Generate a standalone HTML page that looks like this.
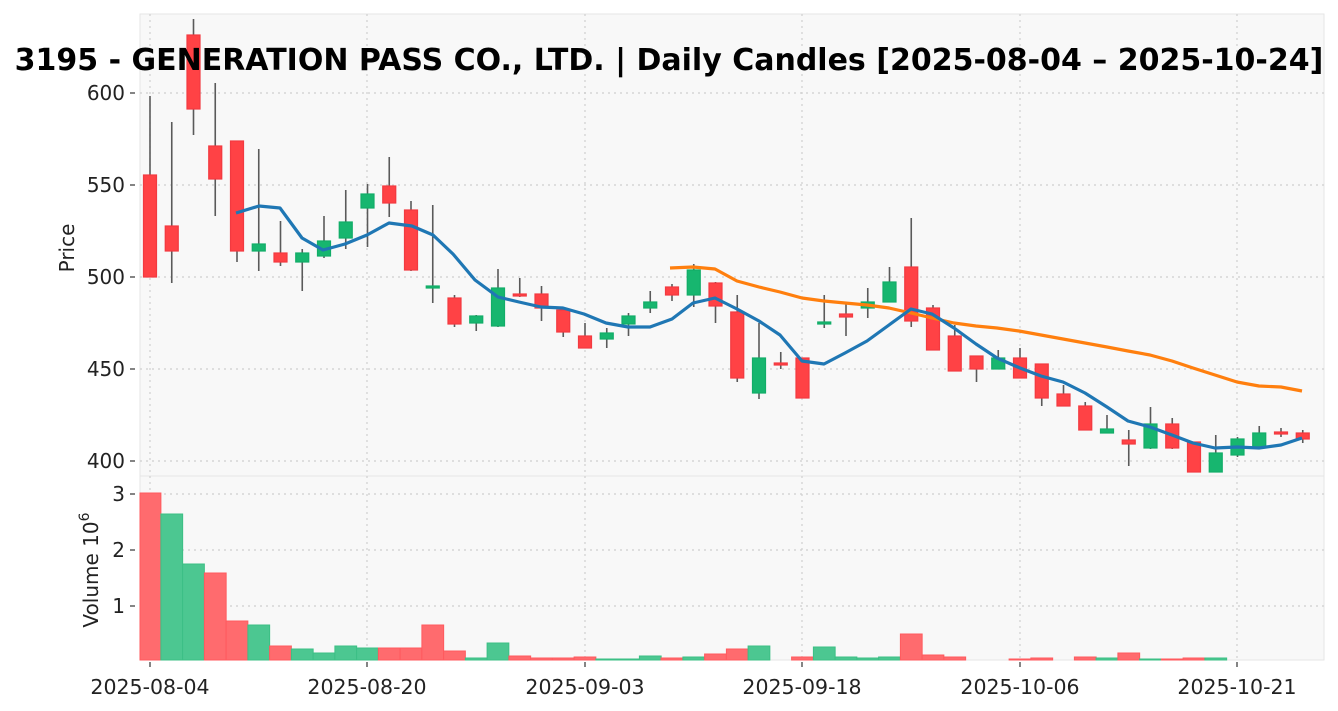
<!DOCTYPE html>
<html><head><meta charset="utf-8"><style>
html,body{margin:0;padding:0;background:#fff;}
svg{display:block;font-family:"DejaVu Sans","Liberation Sans",sans-serif;}
.r{fill:#ff4245;stroke:#f23a40;stroke-width:1.2}
.g{fill:#17b66f;stroke:#12ad68;stroke-width:1.2}
.vr{fill:#ff6b6e;stroke:#ff5a5e;stroke-width:1}
.vg{fill:#4cc791;stroke:#3cbf85;stroke-width:1}
.w line{stroke:#5a5a5a;stroke-width:1.6}
</style></head><body>
<svg width="1338" height="711" viewBox="0 0 1338 711" xmlns="http://www.w3.org/2000/svg">
<rect x="140" y="14" width="1184" height="462" fill="#f8f8f8" stroke="#e6e6e6"/>
<rect x="140" y="476" width="1184" height="184" fill="#f8f8f8" stroke="#e6e6e6"/>
<g stroke="#cfcfcf" stroke-width="1.2" stroke-dasharray="2,4">
<line x1="150" y1="14" x2="150" y2="660"/><line x1="367" y1="14" x2="367" y2="660"/><line x1="585" y1="14" x2="585" y2="660"/><line x1="802" y1="14" x2="802" y2="660"/><line x1="1020" y1="14" x2="1020" y2="660"/><line x1="1237" y1="14" x2="1237" y2="660"/>
<line x1="140" y1="93" x2="1324" y2="93"/><line x1="140" y1="185" x2="1324" y2="185"/><line x1="140" y1="277" x2="1324" y2="277"/><line x1="140" y1="369" x2="1324" y2="369"/><line x1="140" y1="461" x2="1324" y2="461"/>
<line x1="140" y1="494" x2="1324" y2="494"/><line x1="140" y1="550" x2="1324" y2="550"/><line x1="140" y1="606" x2="1324" y2="606"/>
</g>
<!-- volume -->
<rect class="vr" x="140" y="493" width="20.9" height="167"/>
<rect class="vg" x="160.9" y="514" width="21.75" height="146"/>
<rect class="vg" x="182.6" y="564" width="21.75" height="96"/>
<rect class="vr" x="204.4" y="573" width="21.75" height="87"/>
<rect class="vr" x="226.1" y="621" width="21.75" height="39"/>
<rect class="vg" x="247.9" y="625" width="21.75" height="35"/>
<rect class="vr" x="269.6" y="646" width="21.75" height="14"/>
<rect class="vg" x="291.4" y="649" width="21.75" height="11"/>
<rect class="vg" x="313.1" y="653" width="21.75" height="7"/>
<rect class="vg" x="334.9" y="646" width="21.75" height="14"/>
<rect class="vg" x="356.6" y="648" width="21.75" height="12"/>
<rect class="vr" x="378.4" y="648" width="21.75" height="12"/>
<rect class="vr" x="400.1" y="648" width="21.75" height="12"/>
<rect class="vr" x="421.9" y="625" width="21.75" height="35"/>
<rect class="vr" x="443.6" y="651" width="21.75" height="9"/>
<rect class="vg" x="465.4" y="658" width="21.75" height="2"/>
<rect class="vg" x="487.1" y="643" width="21.75" height="17"/>
<rect class="vr" x="508.9" y="656" width="21.75" height="4"/>
<rect class="vr" x="530.6" y="658" width="21.75" height="2"/>
<rect class="vr" x="552.4" y="658" width="21.75" height="2"/>
<rect class="vr" x="574.1" y="657" width="21.75" height="3"/>
<rect class="vg" x="595.9" y="659" width="21.75" height="1"/>
<rect class="vg" x="617.6" y="659" width="21.75" height="1"/>
<rect class="vg" x="639.4" y="656" width="21.75" height="4"/>
<rect class="vr" x="661.1" y="658" width="21.75" height="2"/>
<rect class="vg" x="682.9" y="657" width="21.75" height="3"/>
<rect class="vr" x="704.6" y="654" width="21.75" height="6"/>
<rect class="vr" x="726.4" y="649" width="21.75" height="11"/>
<rect class="vg" x="748.1" y="646" width="21.75" height="14"/>
<rect class="vr" x="791.6" y="657" width="21.75" height="3"/>
<rect class="vg" x="813.4" y="647" width="21.75" height="13"/>
<rect class="vg" x="835.1" y="657" width="21.75" height="3"/>
<rect class="vg" x="856.9" y="658" width="21.75" height="2"/>
<rect class="vg" x="878.6" y="657" width="21.75" height="3"/>
<rect class="vr" x="900.4" y="634" width="21.75" height="26"/>
<rect class="vr" x="922.1" y="655" width="21.75" height="5"/>
<rect class="vr" x="943.9" y="657" width="21.75" height="3"/>
<rect class="vr" x="1009.1" y="659" width="21.75" height="1"/>
<rect class="vr" x="1030.9" y="658" width="21.75" height="2"/>
<rect class="vr" x="1074.4" y="657" width="21.75" height="3"/>
<rect class="vg" x="1096.1" y="658" width="21.75" height="2"/>
<rect class="vr" x="1117.9" y="653" width="21.75" height="7"/>
<rect class="vg" x="1139.6" y="659" width="21.75" height="1"/>
<rect class="vr" x="1161.4" y="659" width="21.75" height="1"/>
<rect class="vr" x="1183.1" y="658" width="21.75" height="2"/>
<rect class="vg" x="1204.9" y="658" width="21.75" height="2"/>
<!-- wicks -->
<g class="w">
<line x1="150" y1="96" x2="150" y2="277"/>
<line x1="171.75" y1="122" x2="171.75" y2="283"/>
<line x1="193.5" y1="19" x2="193.5" y2="135"/>
<line x1="215.25" y1="83" x2="215.25" y2="216"/>
<line x1="237" y1="141" x2="237" y2="262"/>
<line x1="258.75" y1="149" x2="258.75" y2="271"/>
<line x1="280.5" y1="221" x2="280.5" y2="266"/>
<line x1="302.25" y1="249" x2="302.25" y2="291"/>
<line x1="324" y1="216" x2="324" y2="258"/>
<line x1="345.75" y1="190" x2="345.75" y2="249"/>
<line x1="367.5" y1="184" x2="367.5" y2="247"/>
<line x1="389.25" y1="157" x2="389.25" y2="217"/>
<line x1="411" y1="201" x2="411" y2="271"/>
<line x1="432.75" y1="205" x2="432.75" y2="303"/>
<line x1="454.5" y1="295" x2="454.5" y2="327"/>
<line x1="476.25" y1="315" x2="476.25" y2="331"/>
<line x1="498" y1="269" x2="498" y2="327"/>
<line x1="519.75" y1="278" x2="519.75" y2="297"/>
<line x1="541.5" y1="286" x2="541.5" y2="321"/>
<line x1="563.25" y1="310" x2="563.25" y2="337"/>
<line x1="585" y1="323" x2="585" y2="348"/>
<line x1="606.75" y1="328" x2="606.75" y2="348"/>
<line x1="628.5" y1="313" x2="628.5" y2="336"/>
<line x1="650.25" y1="291" x2="650.25" y2="313"/>
<line x1="672" y1="284" x2="672" y2="301"/>
<line x1="693.75" y1="264" x2="693.75" y2="307"/>
<line x1="715.5" y1="282" x2="715.5" y2="323"/>
<line x1="737.25" y1="295" x2="737.25" y2="382"/>
<line x1="759" y1="323" x2="759" y2="399"/>
<line x1="780.75" y1="352" x2="780.75" y2="369"/>
<line x1="824.25" y1="295" x2="824.25" y2="328"/>
<line x1="846" y1="303" x2="846" y2="336"/>
<line x1="867.75" y1="288" x2="867.75" y2="318"/>
<line x1="889.5" y1="267" x2="889.5" y2="302"/>
<line x1="911.25" y1="218" x2="911.25" y2="327"/>
<line x1="933" y1="305" x2="933" y2="350"/>
<line x1="954.75" y1="325" x2="954.75" y2="371"/>
<line x1="976.5" y1="356" x2="976.5" y2="382"/>
<line x1="998.25" y1="350" x2="998.25" y2="369"/>
<line x1="1020" y1="348" x2="1020" y2="378"/>
<line x1="1041.75" y1="364" x2="1041.75" y2="406"/>
<line x1="1063.5" y1="385" x2="1063.5" y2="406"/>
<line x1="1085.25" y1="402" x2="1085.25" y2="430"/>
<line x1="1107" y1="415" x2="1107" y2="433"/>
<line x1="1128.75" y1="430" x2="1128.75" y2="466"/>
<line x1="1150.5" y1="407" x2="1150.5" y2="449"/>
<line x1="1172.25" y1="418" x2="1172.25" y2="449"/>
<line x1="1215.75" y1="435" x2="1215.75" y2="472"/>
<line x1="1237.5" y1="437" x2="1237.5" y2="457"/>
<line x1="1259.25" y1="426" x2="1259.25" y2="447"/>
<line x1="1281" y1="428" x2="1281" y2="437"/>
<line x1="1302.75" y1="430" x2="1302.75" y2="443"/>
</g>
<!-- bodies -->
<rect class="r" x="143.5" y="175" width="13" height="102"/>
<rect class="r" x="165.25" y="226" width="13" height="25"/>
<rect class="r" x="187" y="35" width="13" height="74"/>
<rect class="r" x="208.75" y="146" width="13" height="33"/>
<rect class="r" x="230.5" y="141" width="13" height="110"/>
<rect class="g" x="252.25" y="244" width="13" height="7"/>
<rect class="r" x="274" y="253" width="13" height="9"/>
<rect class="g" x="295.75" y="253" width="13" height="9"/>
<rect class="g" x="317.5" y="241" width="13" height="15"/>
<rect class="g" x="339.25" y="222" width="13" height="16"/>
<rect class="g" x="361" y="194" width="13" height="14"/>
<rect class="r" x="382.75" y="186" width="13" height="17"/>
<rect class="r" x="404.5" y="210" width="13" height="60"/>
<rect class="g" x="426.25" y="286" width="13" height="2"/>
<rect class="r" x="448" y="298" width="13" height="26"/>
<rect class="g" x="469.75" y="316" width="13" height="7"/>
<rect class="g" x="491.5" y="288" width="13" height="38"/>
<rect class="r" x="513.25" y="294" width="13" height="2"/>
<rect class="r" x="535" y="294" width="13" height="14"/>
<rect class="r" x="556.75" y="310" width="13" height="22"/>
<rect class="r" x="578.5" y="336" width="13" height="12"/>
<rect class="g" x="600.25" y="333" width="13" height="6"/>
<rect class="g" x="622" y="316" width="13" height="8"/>
<rect class="g" x="643.75" y="302" width="13" height="6"/>
<rect class="r" x="665.5" y="287" width="13" height="8"/>
<rect class="g" x="687.25" y="270" width="13" height="25"/>
<rect class="r" x="709" y="283" width="13" height="23"/>
<rect class="r" x="730.75" y="312" width="13" height="66"/>
<rect class="g" x="752.5" y="358" width="13" height="35"/>
<rect class="r" x="774.25" y="363" width="13" height="2"/>
<rect class="r" x="796" y="358" width="13" height="40"/>
<rect class="g" x="817.75" y="322" width="13" height="2"/>
<rect class="r" x="839.5" y="314" width="13" height="3"/>
<rect class="g" x="861.25" y="302" width="13" height="6"/>
<rect class="g" x="883" y="282" width="13" height="20"/>
<rect class="r" x="904.75" y="267" width="13" height="54"/>
<rect class="r" x="926.5" y="308" width="13" height="42"/>
<rect class="r" x="948.25" y="336" width="13" height="35"/>
<rect class="r" x="970" y="356" width="13" height="13"/>
<rect class="g" x="991.75" y="358" width="13" height="11"/>
<rect class="r" x="1013.5" y="358" width="13" height="20"/>
<rect class="r" x="1035.25" y="364" width="13" height="34"/>
<rect class="r" x="1057" y="394" width="13" height="12"/>
<rect class="r" x="1078.75" y="406" width="13" height="24"/>
<rect class="g" x="1100.5" y="429" width="13" height="4"/>
<rect class="r" x="1122.25" y="440" width="13" height="4"/>
<rect class="g" x="1144" y="424" width="13" height="24"/>
<rect class="r" x="1165.75" y="424" width="13" height="24"/>
<rect class="r" x="1187.5" y="442" width="13" height="30"/>
<rect class="g" x="1209.25" y="453" width="13" height="19"/>
<rect class="g" x="1231" y="439" width="13" height="16"/>
<rect class="g" x="1252.75" y="433" width="13" height="14"/>
<rect class="r" x="1274.5" y="432" width="13" height="2"/>
<rect class="r" x="1296.25" y="433" width="13" height="6"/>
<polyline fill="none" stroke="#ff7f0e" stroke-width="3.2" stroke-linejoin="round" points="670,268 693,267 715,269 737,281 759,287 780,292 802,298 824,301 845,303 867,305 889,308 911,313 932,318 954,323 976,326 997,328 1019,331 1041,335 1063,339 1085,343 1107,347 1128,351 1150,355 1172,361 1193,368 1215,375 1237,382 1259,386 1281,387 1302,391"/>
<polyline fill="none" stroke="#1f77b4" stroke-width="3.2" stroke-linejoin="round" points="236,213 259,206 280,208 302,238 323,250 345,244 367,235 389,223 412,226 433,235 453,254 475,280 498,297 519,302 541,307 563,308 584,314 606,323 628,327 650,327 672,319 693,303 715,298 737,309 759,321 780,335 802,361 824,364 845,353 867,341 889,325 911,309 932,314 954,328 976,344 997,358 1020,368 1041,376 1063,382 1085,393 1107,407 1128,421 1150,427 1172,435 1193,443 1215,448 1237,447 1259,448 1281,445 1302,438"/>
<g fill="#222" font-size="20" text-anchor="end">
<text x="125" y="100">600</text><text x="125" y="192">550</text><text x="125" y="284">500</text><text x="125" y="376">450</text><text x="125" y="468">400</text>
<text x="125" y="501">3</text><text x="125" y="557">2</text><text x="125" y="613">1</text>
</g>
<g stroke="#333" stroke-width="1.2">
<line x1="130" y1="93" x2="135" y2="93"/><line x1="130" y1="185" x2="135" y2="185"/><line x1="130" y1="277" x2="135" y2="277"/><line x1="130" y1="369" x2="135" y2="369"/><line x1="130" y1="461" x2="135" y2="461"/>
<line x1="130" y1="494" x2="135" y2="494"/><line x1="130" y1="550" x2="135" y2="550"/><line x1="130" y1="606" x2="135" y2="606"/>
<line x1="150" y1="662" x2="150" y2="667"/><line x1="367" y1="662" x2="367" y2="667"/><line x1="585" y1="662" x2="585" y2="667"/><line x1="802" y1="662" x2="802" y2="667"/><line x1="1020" y1="662" x2="1020" y2="667"/><line x1="1237" y1="662" x2="1237" y2="667"/>
</g>
<g fill="#222" font-size="20.5" text-anchor="middle">
<text x="150" y="694">2025-08-04</text><text x="367" y="694">2025-08-20</text><text x="585" y="694">2025-09-03</text><text x="802" y="694">2025-09-18</text><text x="1020" y="694">2025-10-06</text><text x="1237" y="694">2025-10-21</text>
</g>
<text transform="translate(74,248) rotate(-90)" font-size="20" fill="#222" text-anchor="middle">Price</text>
<text transform="translate(98,570) rotate(-90)" font-size="20" fill="#222" text-anchor="middle">Volume  10<tspan dy="-9" font-size="14">6</tspan></text>
<text x="669" y="70" font-size="30" font-weight="bold" fill="#000" text-anchor="middle">3195 - GENERATION PASS CO., LTD. | Daily Candles [2025-08-04 – 2025-10-24]</text>
</svg>
</body></html>
